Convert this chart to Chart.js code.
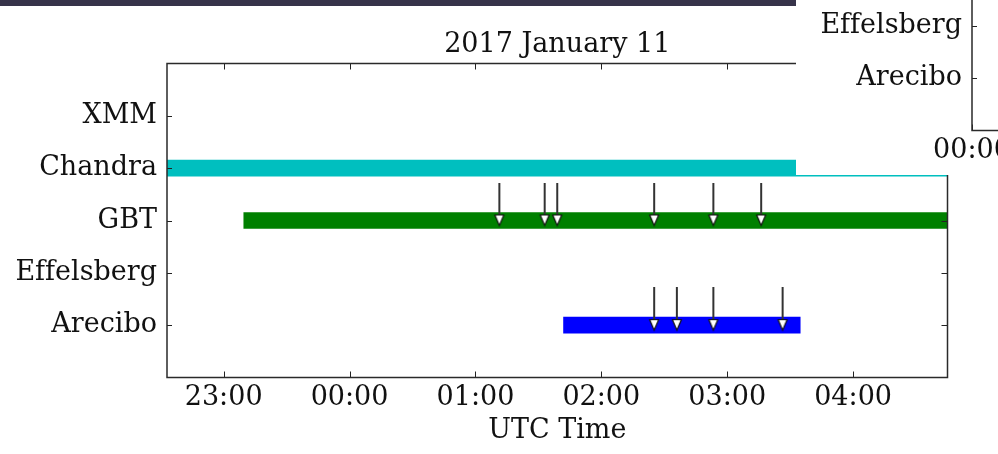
<!DOCTYPE html>
<html>
<head>
<meta charset="utf-8">
<title>2017 January 11 — FRB 121102 coverage</title>
<script src="https://cdn.jsdelivr.net/npm/chart.js@4/dist/chart.umd.min.js"></script>
<style>
  html, body { margin: 0; padding: 0; background: #fff; }
  #wrap { position: relative; width: 998px; height: 454px; overflow: hidden; background: #fff; }
  #main { position: absolute; left: 0; top: 0; }
  canvas { font-variant-ligatures: none; font-kerning: none; }
  #topbar { position: absolute; left: 0; top: 0; width: 796px; height: 6px; background: #37334a; }
  #inset { position: absolute; left: 796px; top: 0; width: 202px; height: 175px; overflow: hidden; background: #fff; }
  #insetChart { position: absolute; left: 9px; top: -247px; }
</style>
</head>
<body>
<div id="wrap">
  <canvas id="main" width="998" height="454"></canvas>
  <div id="topbar"></div>
  <div id="inset"><canvas id="insetChart" width="998" height="454"></canvas></div>
</div>
<script>
// Observatories, top to bottom
const categories = ['XMM', 'Chandra', 'GBT', 'Effelsberg', 'Arecibo'];

// Time axis in hours relative to 2017 Jan 11 00:00 UTC
const axisStart = -1.45;
const axisEnd = 4.75;
const hourTicks = [-1, 0, 1, 2, 3, 4];
const hourLabels = ['23:00', '00:00', '01:00', '02:00', '03:00', '04:00'];

// Observing windows
const windowStation = ['Chandra', 'GBT', 'Arecibo'];
const windowStart = [-1.45, -0.84, 1.70];
const windowEnd = [4.75, 4.75, 3.58];

// Burst arrival times (hours UTC)
const gbtBursts = [1.19, 1.55, 1.65, 2.42, 2.89, 3.27];
const areciboBursts = [2.42, 2.60, 2.89, 3.44];

// Next day's panel (only its left edge shows)
const nextDayStart = 0;
const nextDayEnd = 6.2;
const nextDayTicks = [0, 1, 2, 3, 4, 5, 6];
const nextDayLabels = ['00:00', '01:00', '02:00', '03:00', '04:00', '05:00', '06:00'];

const stationColors = { Chandra: '#00bfbf', GBT: '#008000', Arecibo: '#0000ff' };

Chart.defaults.font.family = '"DejaVu Serif", serif';
Chart.defaults.font.size = 27;
Chart.defaults.color = '#111';

// Down-pointing burst marker: stem plus hollow triangular head
function makeArrowGlyph() {
  const c = document.createElement('canvas');
  c.width = 14; c.height = 76;
  const g = c.getContext('2d');
  const cx = 7;
  g.strokeStyle = '#333';
  g.lineWidth = 2;
  g.beginPath();
  g.moveTo(cx, 0);
  g.lineTo(cx, 33);
  g.stroke();
  g.beginPath();
  g.moveTo(cx - 4.5, 32.5);
  g.lineTo(cx + 4.5, 32.5);
  g.lineTo(cx, 43);
  g.closePath();
  g.fillStyle = '#fff';
  g.fill();
  g.strokeStyle = '#111';
  g.lineWidth = 1.2;
  g.stroke();
  return c;
}
const arrowGlyph = makeArrowGlyph();

// Plain glyph shaping (no ligatures) for all chart text
const plainTextPlugin = {
  id: 'plainText',
  beforeDraw(chart) {
    const ctx = chart.ctx;
    if ('textRendering' in ctx) ctx.textRendering = 'optimizeSpeed';
    if ('fontKerning' in ctx) ctx.fontKerning = 'none';
  }
};

// Axes box with inward ticks on all four sides
const framePlugin = {
  id: 'frame',
  afterDatasetsDraw(chart) {
    const { ctx, chartArea: a, scales: { x, y } } = chart;
    ctx.save();
    ctx.strokeStyle = '#222';
    ctx.lineWidth = 1;
    ctx.beginPath();
    x.ticks.forEach(t => {
      const px = Math.round(x.getPixelForValue(t.value)) + 0.5;
      ctx.moveTo(px, a.bottom); ctx.lineTo(px, a.bottom - 6);
      ctx.moveTo(px, a.top); ctx.lineTo(px, a.top + 6);
    });
    y.ticks.forEach(t => {
      const py = Math.round(y.getPixelForValue(t.value)) + 0.5;
      ctx.moveTo(a.left, py); ctx.lineTo(a.left + 5, py);
      ctx.moveTo(a.right, py); ctx.lineTo(a.right - 6, py);
    });
    ctx.stroke();
    ctx.strokeStyle = '#2a2a2a';
    ctx.lineWidth = 1.5;
    ctx.strokeRect(a.left, a.top, a.right - a.left, a.bottom - a.top);
    ctx.restore();
  }
};

function buildChart(canvas, opts) {
  const datasets = [];
  if (opts.bursts) {
    opts.bursts.forEach(b => {
      datasets.push({
        type: 'scatter',
        order: 0,
        data: b.times.map(t => ({ x: t, y: categories.indexOf(b.station) + 1 })),
        pointStyle: arrowGlyph,
        pointRadius: 5
      });
    });
  }
  if (opts.windows) {
    datasets.push({
      type: 'bar',
      order: 1,
      indexAxis: 'y',
      data: opts.windows.station.map((s, i) => ({
        y: categories.indexOf(s) + 1,
        x: [opts.windows.start[i], opts.windows.end[i]]
      })),
      backgroundColor: opts.windows.station.map(s => stationColors[s]),
      borderWidth: 0,
      barThickness: 16
    });
  }
  return new Chart(canvas, {
    type: 'bar',
    data: { datasets },
    options: {
      responsive: false,
      animation: false,
      devicePixelRatio: 1,
      events: [],
      layout: { padding: { left: 0, right: 50.5, top: opts.title ? 0 : 63.5, bottom: 7 } },
      plugins: {
        legend: { display: false },
        tooltip: { enabled: false },
        title: {
          display: !!opts.title,
          text: opts.title || '',
          fullSize: false,
          color: '#111',
          font: { size: 27, weight: 'normal' },
          padding: { top: 28.5, bottom: 2.6 }
        }
      },
      scales: {
        x: {
          type: 'linear',
          position: 'bottom',
          offset: false,
          min: opts.xMin,
          max: opts.xMax,
          grid: { display: false, drawTicks: false, offset: false },
          border: { display: false },
          afterBuildTicks: s => { s.ticks = opts.ticks.map(v => ({ value: v })); },
          afterFit: s => { s.height = 69.5; },
          ticks: {
            padding: 4,
            maxRotation: 0,
            autoSkip: false,
            color: '#111',
            callback: (v, i) => opts.labels[i]
          },
          title: { display: true, text: 'UTC Time', color: '#111', padding: 0 }
        },
        y: {
          type: 'linear',
          position: 'left',
          offset: false,
          min: 0,
          max: 6,
          reverse: true,
          grid: { display: false, drawTicks: false, offset: false },
          border: { display: false },
          afterBuildTicks: s => { s.ticks = categories.map((c, i) => ({ value: i + 1 })); },
          afterFit: s => { s.width = 167; },
          ticks: {
            padding: 10,
            autoSkip: false,
            color: '#111',
            callback: v => categories[v - 1]
          }
        }
      }
    },
    plugins: [plainTextPlugin, framePlugin]
  });
}

buildChart(document.getElementById('main'), {
  title: '2017 January 11',
  xMin: axisStart,
  xMax: axisEnd,
  ticks: hourTicks,
  labels: hourLabels,
  windows: { station: windowStation, start: windowStart, end: windowEnd },
  bursts: [
    { station: 'GBT', times: gbtBursts },
    { station: 'Arecibo', times: areciboBursts }
  ]
});

buildChart(document.getElementById('insetChart'), {
  title: null,
  xMin: nextDayStart,
  xMax: nextDayEnd,
  ticks: nextDayTicks,
  labels: nextDayLabels
});
</script>
</body>
</html>
